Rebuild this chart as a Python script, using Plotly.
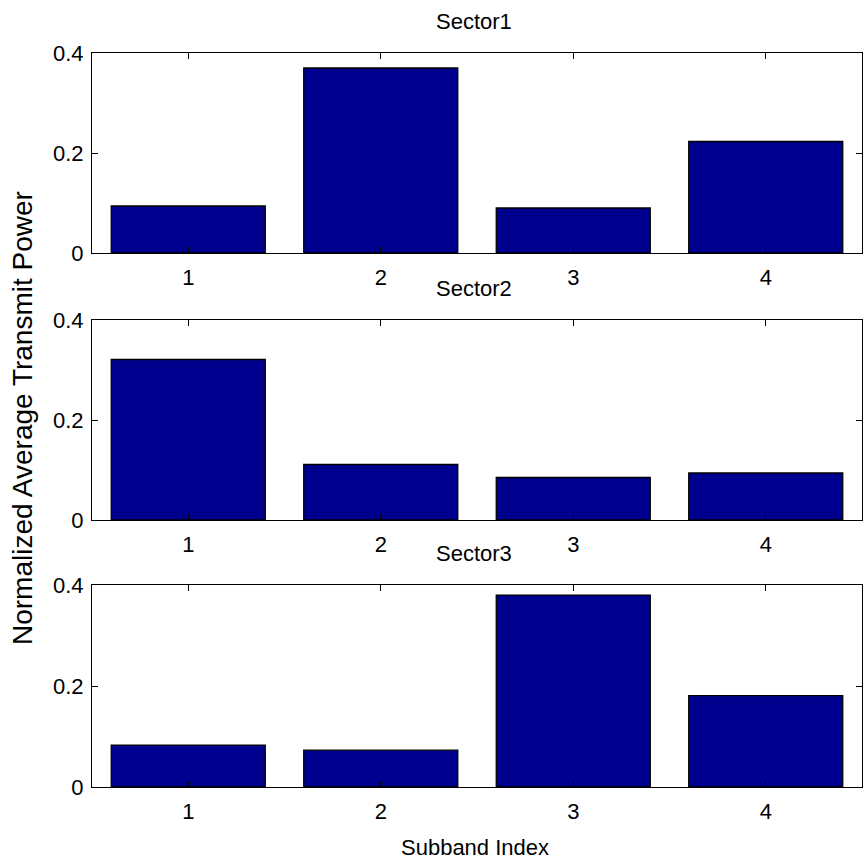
import plotly.graph_objects as go
from plotly.subplots import make_subplots

subbands = [1, 2, 3, 4]
sector1 = [0.094, 0.370, 0.090, 0.223]
sector2 = [0.321, 0.111, 0.085, 0.094]
sector3 = [0.083, 0.073, 0.380, 0.181]
sector_titles = ["Sector1", "Sector2", "Sector3"]
y_ticks = [0, 0.2, 0.4]
y_tick_text = ["0", "0.2", "0.4"]

BAR_COLOR = "#00008F"
FONT = "Liberation Sans, Arial, sans-serif"

W, H = 863, 862
ML, MR, MT, MB = 92, 1, 53, 75
plot_h = H - MT - MB
plot_w = W - ML - MR

# panel extents in pixels from the top of the page
panels_px = [(53, 253), (320, 520), (585, 787)]


def to_dom(top, bottom):
    return [(H - MB - bottom) / plot_h, (H - MB - top) / plot_h]


def px_x(x):
    return (x - ML) / plot_w


def px_y(y):
    return (H - MB - y) / plot_h


fig = make_subplots(rows=3, cols=1)
for i, vals in enumerate([sector1, sector2, sector3], start=1):
    fig.add_trace(
        go.Bar(
            x=subbands, y=vals, width=0.8,
            marker=dict(color=BAR_COLOR, line=dict(color="black", width=1.3)),
            showlegend=False,
        ),
        row=i, col=1,
    )

axis_common = dict(
    showline=True, linecolor="black", linewidth=1.2, mirror="ticks",
    ticks="inside", ticklen=6, tickwidth=1.2, tickcolor="black",
    showgrid=False, zeroline=False,
    tickfont=dict(family=FONT, size=22, color="black"),
)

for i, (top, bottom) in enumerate(panels_px, start=1):
    fig.update_xaxes(
        range=[0.5, 4.5], tickvals=subbands, ticktext=[str(s) for s in subbands],
        ticklabelstandoff=4, row=i, col=1, **axis_common,
    )
    fig.update_yaxes(
        range=[0, 0.4], tickvals=y_ticks, ticktext=y_tick_text,
        ticklabelstandoff=3,
        domain=to_dom(top, bottom), row=i, col=1, **axis_common,
    )
    fig.add_annotation(
        text=sector_titles[i - 1], xref="paper", yref="paper",
        x=px_x(474), y=px_y(top - 32),
        showarrow=False, font=dict(family=FONT, size=22, color="black"),
        xanchor="center", yanchor="middle",
    )

fig.add_annotation(
    text="Normalized Average Transmit Power", xref="paper", yref="paper",
    x=px_x(23), y=px_y(418),
    textangle=-90, showarrow=False,
    font=dict(family=FONT, size=28, color="black"),
    xanchor="center", yanchor="middle",
)
fig.add_annotation(
    text="Subband Index", xref="paper", yref="paper",
    x=px_x(475), y=px_y(847),
    showarrow=False, font=dict(family=FONT, size=22, color="black"),
    xanchor="center", yanchor="middle",
)

fig.update_layout(
    width=W, height=H, margin=dict(l=ML, r=MR, t=MT, b=MB),
    paper_bgcolor="white", plot_bgcolor="white", bargap=0.2,
)

fig.write_html("out.html")
